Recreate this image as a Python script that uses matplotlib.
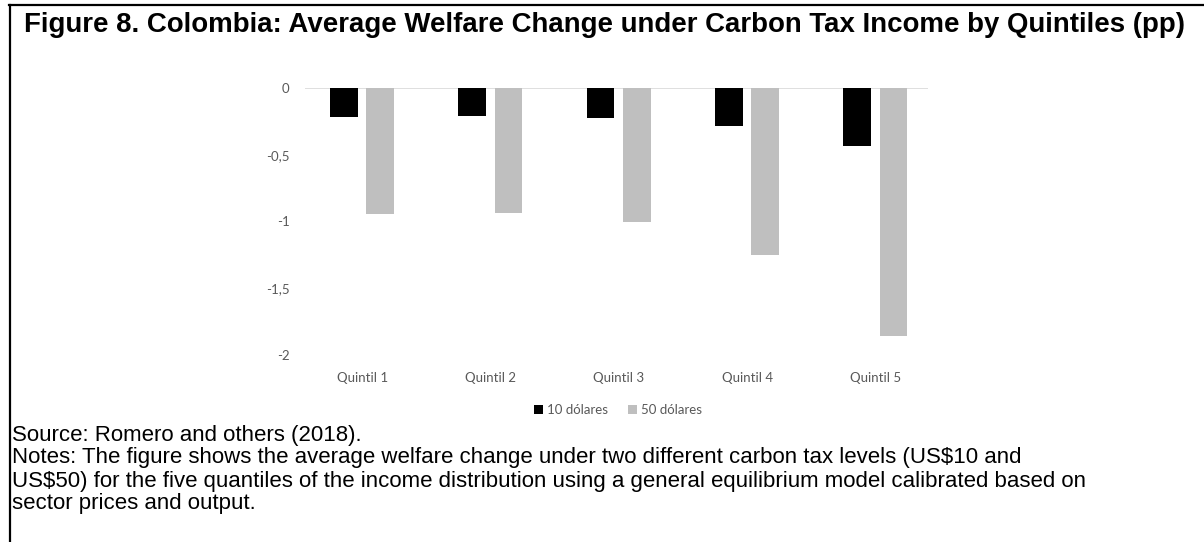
import matplotlib
matplotlib.use("Agg")
import matplotlib.pyplot as plt
from matplotlib.patches import Patch
from matplotlib.lines import Line2D

categories = ["Quintil 1", "Quintil 2", "Quintil 3", "Quintil 4", "Quintil 5"]
series_names = ["10 dólares", "50 dólares"]
values_10 = [-0.22, -0.21, -0.225, -0.285, -0.435]
values_50 = [-0.945, -0.935, -1.0, -1.25, -1.86]
yticks = [0, -0.5, -1, -1.5, -2]
ytick_labels = ["0", "-0,5", "-1", "-1,5", "-2"]

title = "Figure 8. Colombia: Average Welfare Change under Carbon Tax Income by Quintiles (pp)"
notes = [
    "Source: Romero and others (2018).",
    "Notes: The figure shows the average welfare change under two different carbon tax levels (US$10 and",
    "US$50) for the five quantiles of the income distribution using a general equilibrium model calibrated based on",
    "sector prices and output.",
]

W, H = 1204, 542
fig = plt.figure(figsize=(W / 100, H / 100), dpi=100)
fig.patch.set_facecolor("white")

def fx(px):
    return px / W

def fy(py):
    return 1 - py / H

# border lines (top and left)
fig.add_artist(Line2D([fx(9), fx(1204)], [fy(5), fy(5)], color="black", lw=1.6,
                      transform=fig.transFigure))
fig.add_artist(Line2D([fx(10), fx(10)], [fy(5), fy(542)], color="black", lw=1.6,
                      transform=fig.transFigure))

fig.text(fx(605), fy(25), title, ha="center", va="center",
         fontsize=19.9, fontweight="bold", family="Liberation Sans")

for i, line in enumerate(notes):
    fig.text(fx(12), fy(435 + 23 * i), line, ha="left", va="center",
             fontsize=16.0, family="Liberation Sans")

ax_left, ax_right = 305, 928
ax_top, ax_bot = 88, 355
ax = fig.add_axes([fx(ax_left), fy(ax_bot), fx(ax_right - ax_left), (ax_bot - ax_top) / H])

x = list(range(len(categories)))
bw = 0.215
gap = 0.068
off = (bw + gap) / 2
ax.bar([i - off for i in x], values_10, width=bw, color="#000000", label=series_names[0], zorder=3)
ax.bar([i + off for i in x], values_50, width=bw, color="#BFBFBF", label=series_names[1], zorder=3)

ax.set_xlim(-0.445, len(categories) - 0.59)
ax.set_ylim(-2, 0)
ax.axhline(0, color="#D9D9D9", lw=1.2, zorder=1)
for s in ax.spines.values():
    s.set_visible(False)

lab_color = "#595959"
ax.set_yticks(yticks)
ax.set_yticklabels(ytick_labels, family="Lato", fontsize=9.5, color=lab_color)
ax.set_xticks(x)
ax.set_xticklabels(categories, family="Lato", fontsize=9.5, color=lab_color)
ax.tick_params(axis="y", length=0, pad=11)
ax.tick_params(axis="x", length=0, pad=12.5)

handles = [Patch(facecolor="#000000"), Patch(facecolor="#BFBFBF")]
leg = fig.legend(handles, series_names, loc="center", bbox_to_anchor=(fx(618), fy(410)),
                 ncol=2, frameon=False, handlelength=0.7, handleheight=0.7,
                 handletextpad=0.3, columnspacing=1.5,
                 prop={"family": "Lato", "size": 9.5})
for t in leg.get_texts():
    t.set_color(lab_color)

fig.savefig("out.png", dpi=100, facecolor="white")
